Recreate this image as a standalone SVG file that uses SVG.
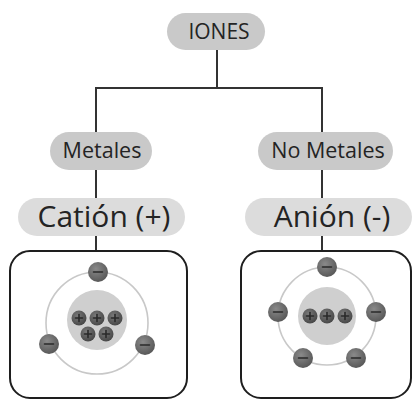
<svg xmlns="http://www.w3.org/2000/svg" width="414" height="400" viewBox="0 0 414 400">
  <style>
    .pill { fill: #c9c9c9; }
    .pill-lg { fill: #dcdcdc; }
    .lbl { font-family: "Open Sans", "Liberation Sans", sans-serif; fill: #242424; text-anchor: middle; }
    .conn { stroke: #333; stroke-width: 2; fill: none; }
    .box { fill: #fff; stroke: #1e1e1e; stroke-width: 2; }
    .orbit { fill: none; stroke: #c8c8c8; stroke-width: 1.6; }
    .nucleus { fill: #cfcfcf; }
    .sign { stroke: #2a2a2a; stroke-width: 1.6; stroke-linecap: round; }
  </style>
  <defs>
    <radialGradient id="eGrad" cx="0.4" cy="0.35" r="0.7">
      <stop offset="0" stop-color="#8a8a8a"/>
      <stop offset="1" stop-color="#555"/>
    </radialGradient>
    <radialGradient id="pGrad" cx="0.4" cy="0.35" r="0.7">
      <stop offset="0" stop-color="#7a7a7a"/>
      <stop offset="1" stop-color="#444"/>
    </radialGradient>
    <g id="electron">
      <circle r="10" fill="url(#eGrad)"/>
      <line x1="-4.5" y1="0" x2="4.5" y2="0" class="sign"/>
    </g>
    <g id="proton">
      <circle r="7.5" fill="url(#pGrad)"/>
      <line x1="-3.5" y1="0" x2="3.5" y2="0" class="sign" stroke-width="1.2"/>
      <line x1="0" y1="-3.5" x2="0" y2="3.5" class="sign" stroke-width="1.2"/>
    </g>
  </defs>

  <rect width="414" height="400" fill="#fff"/>

  <!-- connectors -->
  <g id="connectors">
    <line x1="217" y1="50" x2="217" y2="88" class="conn"/>
    <line x1="95" y1="88" x2="323" y2="88" class="conn"/>
    <line x1="96" y1="87" x2="96" y2="132" class="conn"/>
    <line x1="322" y1="87" x2="322" y2="132" class="conn"/>
    <line x1="96" y1="170" x2="96" y2="198" class="conn"/>
    <line x1="322" y1="170" x2="322" y2="198" class="conn"/>
    <line x1="96" y1="236" x2="96" y2="251" class="conn"/>
    <line x1="322" y1="236" x2="322" y2="251" class="conn"/>
  </g>

  <g id="iones">
    <rect x="167" y="13" width="98" height="37" rx="18.5" class="pill"/>
    <text x="219" y="39" font-size="21" class="lbl">IONES</text>
  </g>

  <g id="metales">
    <rect x="50" y="132" width="102" height="38" rx="19" class="pill"/>
    <text x="102" y="158" font-size="21.5" class="lbl">Metales</text>
  </g>

  <g id="no-metales">
    <rect x="258" y="132" width="135" height="38" rx="19" class="pill"/>
    <text x="328" y="158" font-size="21.5" class="lbl">No Metales</text>
  </g>

  <g id="cation">
    <rect x="18" y="198" width="167" height="38" rx="19" class="pill-lg"/>
    <text x="104" y="227" font-size="30" class="lbl">Catión (+)</text>
  </g>

  <g id="anion">
    <rect x="245" y="198" width="167" height="38" rx="19" class="pill-lg"/>
    <text x="332" y="227" font-size="30" class="lbl">Anión (-)</text>
  </g>

  <!-- cation atom: 5 protons, 3 electrons -->
  <g id="cation-atom">
    <rect x="10" y="251" width="177" height="147" rx="20" class="box"/>
    <circle cx="97" cy="323" r="51" class="orbit"/>
    <circle cx="97" cy="320" r="30" class="nucleus"/>
    <use href="#proton" x="79" y="318"/>
    <use href="#proton" x="97" y="318"/>
    <use href="#proton" x="115" y="318"/>
    <use href="#proton" x="88" y="334"/>
    <use href="#proton" x="106" y="334"/>
    <use href="#electron" x="98" y="272"/>
    <use href="#electron" x="49" y="344"/>
    <use href="#electron" x="145" y="345"/>
  </g>

  <!-- anion atom: 3 protons, 5 electrons -->
  <g id="anion-atom">
    <rect x="241" y="251" width="170" height="147" rx="20" class="box"/>
    <circle cx="327" cy="316" r="49" class="orbit"/>
    <circle cx="327" cy="316" r="29" class="nucleus"/>
    <use href="#proton" x="310" y="316"/>
    <use href="#proton" x="327" y="316"/>
    <use href="#proton" x="345" y="316"/>
    <use href="#electron" x="327" y="267"/>
    <use href="#electron" x="278" y="312"/>
    <use href="#electron" x="376" y="312"/>
    <use href="#electron" x="303" y="358"/>
    <use href="#electron" x="356" y="358"/>
  </g>
</svg>
